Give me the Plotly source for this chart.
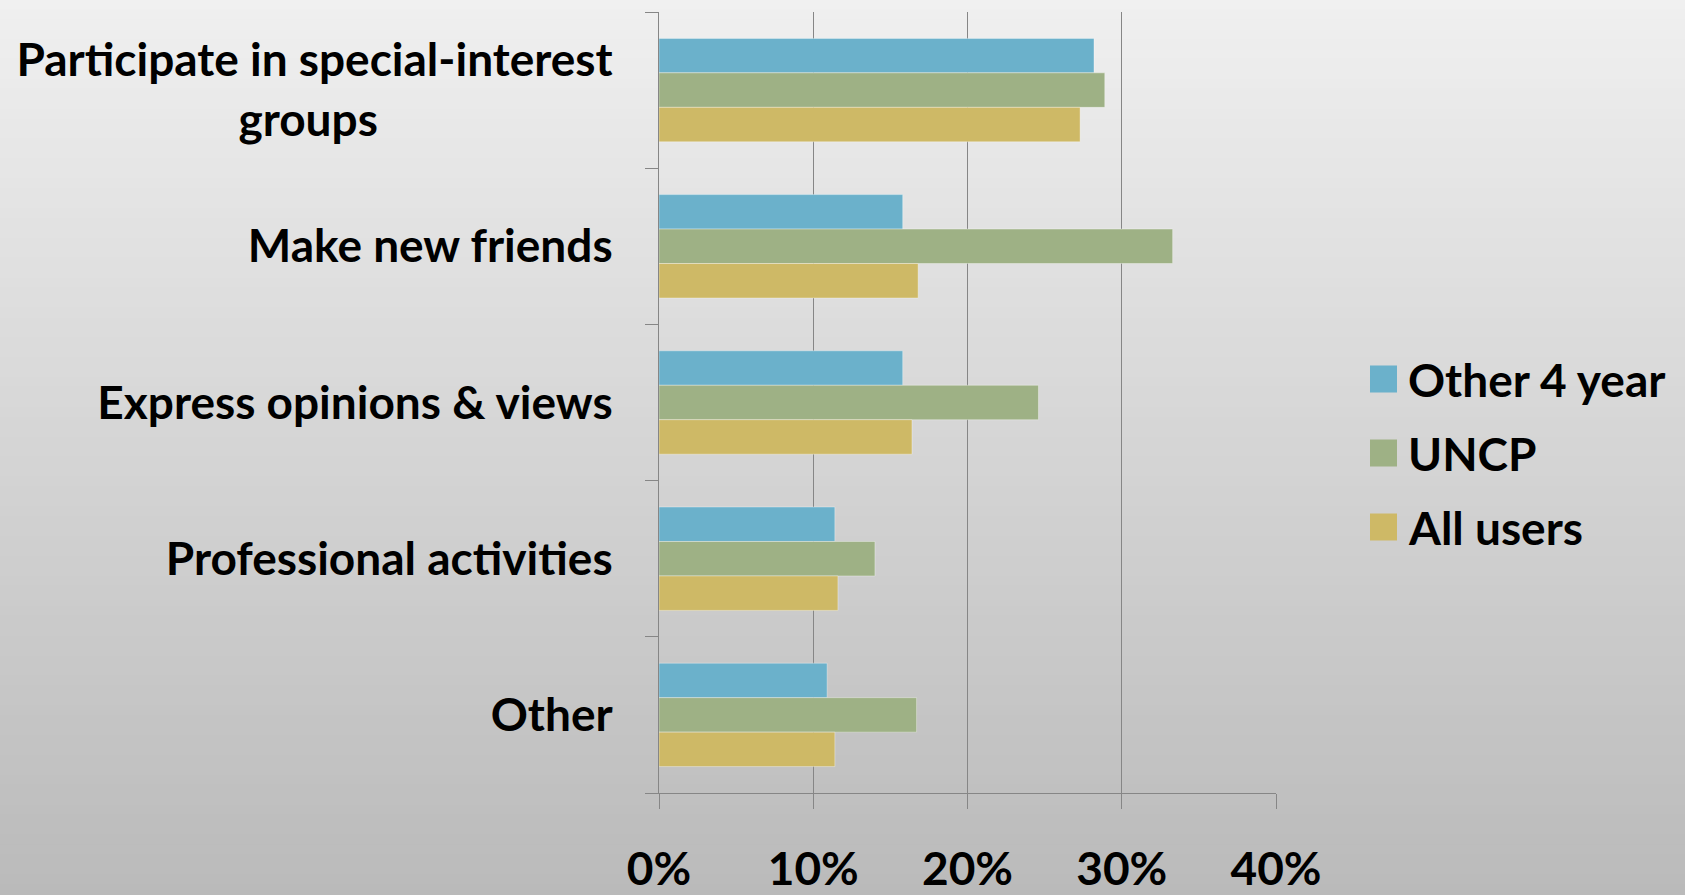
import plotly.graph_objects as go

# data (percent)
categorias = [
    "Participate in special-interest groups",
    "Make new friends",
    "Express opinions & views",
    "Professional activities",
    "Other",
]
etiquetas = [
    "Participate in special-interest<br>groups" + "\u00a0" * 21,
    "Make new friends",
    "Express opinions & views",
    "Professional activities",
    "Other",
]
series = ["Other 4 year", "UNCP", "All users"]
other_4_year = [28.2, 15.8, 15.8, 11.4, 10.9]
uncp = [28.9, 33.3, 24.6, 14.0, 16.7]
all_users = [27.3, 16.8, 16.4, 11.6, 11.4]
x_ticks = [0, 10, 20, 30, 40]
x_labels = ["0%", "10%", "20%", "30%", "40%"]

colores = ["#6BB1CB", "#9EB185", "#CEB966"]
FONT = "Lato"
FS = 46
W, H = 1685, 895
L, R, T, B = 659, 1276, 12, 793


def px_x(px):
    return (px - L) / (R - L)


def px_y(py):
    return (B - py) / (B - T)


fig = go.Figure()
for nombre, valores, color in zip(series, [other_4_year, uncp, all_users], colores):
    fig.add_trace(go.Bar(
        y=categorias,
        x=valores,
        name=nombre,
        orientation="h",
        marker=dict(color=color, line=dict(color="rgba(255,255,255,0.35)", width=1)),
        showlegend=False,
    ))

# background gradient (light grey top -> darker grey bottom)
shapes = []
n = 90
top_c, bot_c = 240, 186
for i in range(n):
    y0 = H * i / n
    y1 = H * (i + 1) / n + 1
    c = round(top_c + (bot_c - top_c) * (i + 0.5) / n)
    shapes.append(dict(
        type="rect", xref="paper", yref="paper", layer="below",
        x0=px_x(-2), x1=px_x(W + 2), y0=px_y(y1), y1=px_y(y0 - 1),
        fillcolor=f"rgb({c},{c},{c})", line=dict(width=0),
    ))

# legend drawn by hand so the swatches match the reference size
annotations = []
for i, (nombre, color) in enumerate(zip(series, colores)):
    cy = 379 + i * 74
    shapes.append(dict(
        type="rect", xref="paper", yref="paper",
        x0=px_x(1370), x1=px_x(1397), y0=px_y(cy + 13.5), y1=px_y(cy - 13.5),
        fillcolor=color, line=dict(width=0),
    ))
    annotations.append(dict(
        xref="paper", yref="paper", x=px_x(1406), y=px_y(cy),
        xanchor="left", yanchor="middle", showarrow=False, text=nombre,
        font=dict(family=FONT, size=FS, color="black", weight="bold"),
    ))

fig.update_layout(
    width=W, height=H,
    margin=dict(l=L, r=W - R, t=T, b=H - B),
    barmode="group",
    bargap=0.338,
    bargroupgap=0,
    paper_bgcolor="#d5d5d5",
    plot_bgcolor="rgba(0,0,0,0)",
    shapes=shapes,
    annotations=annotations,
    font=dict(family=FONT, size=FS, color="black", weight="bold"),
)
fig.update_xaxes(
    range=[0, 40],
    tickvals=x_ticks,
    ticktext=x_labels,
    automargin=False,
    showgrid=True, gridcolor="#868686", gridwidth=1.3,
    showline=True, linecolor="#868686", linewidth=1.3,
    zeroline=False,
    ticks="outside", ticklen=15, tickcolor="#868686", tickwidth=1.3,
    ticklabelstandoff=21,
    tickfont=dict(family=FONT, size=FS, color="black", weight="bold"),
)
fig.update_yaxes(
    autorange="reversed",
    tickvals=categorias,
    ticktext=etiquetas,
    tickson="boundaries",
    automargin=False,
    showgrid=False,
    showline=True, linecolor="#868686", linewidth=1.3,
    ticks="outside", ticklen=13, tickcolor="#868686", tickwidth=1.3,
    ticklabelstandoff=36,
    tickfont=dict(family=FONT, size=FS, color="black", weight="bold"),
)

fig.write_html(
    "out.html",
    config={"displayModeBar": False},
    post_script="document.body.style.margin='0';document.body.style.background='#bababa';",
)
